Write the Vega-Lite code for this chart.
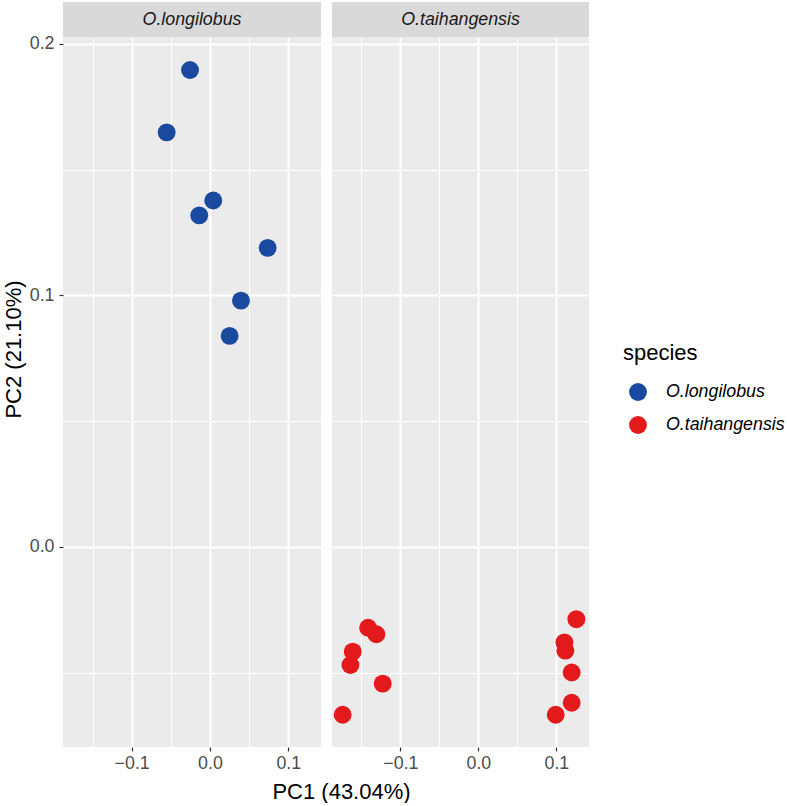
{
  "$schema": "https://vega.github.io/schema/vega-lite/v6.json",
  "padding": {"left": 2, "top": 2, "right": 0, "bottom": 0},
  "data": {"values": [
    {"species": "O.longilobus", "PC1": -0.0255, "PC2": 0.1896},
    {"species": "O.longilobus", "PC1": -0.0553, "PC2": 0.1648},
    {"species": "O.longilobus", "PC1": 0.0042, "PC2": 0.1377},
    {"species": "O.longilobus", "PC1": -0.0137, "PC2": 0.1318},
    {"species": "O.longilobus", "PC1": 0.0737, "PC2": 0.1189},
    {"species": "O.longilobus", "PC1": 0.0396, "PC2": 0.0979},
    {"species": "O.longilobus", "PC1": 0.0251, "PC2": 0.0839},
    {"species": "O.taihangensis", "PC1": -0.1414, "PC2": -0.0321},
    {"species": "O.taihangensis", "PC1": -0.1308, "PC2": -0.0347},
    {"species": "O.taihangensis", "PC1": -0.1611, "PC2": -0.0416},
    {"species": "O.taihangensis", "PC1": -0.1641, "PC2": -0.0469},
    {"species": "O.taihangensis", "PC1": -0.1227, "PC2": -0.0543},
    {"species": "O.taihangensis", "PC1": -0.1740, "PC2": -0.0667},
    {"species": "O.taihangensis", "PC1": 0.1256, "PC2": -0.0287},
    {"species": "O.taihangensis", "PC1": 0.1103, "PC2": -0.0379},
    {"species": "O.taihangensis", "PC1": 0.1115, "PC2": -0.0412},
    {"species": "O.taihangensis", "PC1": 0.1196, "PC2": -0.0499},
    {"species": "O.taihangensis", "PC1": 0.1196, "PC2": -0.0619},
    {"species": "O.taihangensis", "PC1": 0.0991, "PC2": -0.0667}
  ]},
  "config": {
    "font": "Liberation Sans",
    "view": {"fill": "#EBEBEB", "stroke": null},
    "axis": {
      "domain": false,
      "gridColor": "#FFFFFF",
      "labelFontSize": 17.8,
      "labelColor": "#4D4D4D",
      "labelFont": "Liberation Sans",
      "tickColor": "#333333",
      "tickSize": 4,
      "tickWidth": 1.2,
      "titleFontSize": 22,
      "titleFontWeight": "normal",
      "titleColor": "#000000",
      "titleFont": "Liberation Sans",
      "labelPadding": 3
    }
  },
  "spacing": -3,
  "vconcat": [
    {
      "spacing": 11,
      "hconcat": [
        {
          "width": 258,
          "height": 35,
          "view": {"fill": "#D9D9D9", "stroke": null},
          "transform": [
            {"filter": "datum.species == 'O.longilobus'"},
            {"aggregate": [{"op": "count", "as": "n"}], "groupby": ["species"]}
          ],
          "mark": {"type": "text", "fontStyle": "italic", "fontSize": 17.8, "color": "#1A1A1A", "baseline": "middle", "align": "center"},
          "encoding": {"text": {"field": "species", "type": "nominal"}}
        },
        {
          "width": 257,
          "height": 35,
          "view": {"fill": "#D9D9D9", "stroke": null},
          "transform": [
            {"filter": "datum.species == 'O.taihangensis'"},
            {"aggregate": [{"op": "count", "as": "n"}], "groupby": ["species"]}
          ],
          "mark": {"type": "text", "fontStyle": "italic", "fontSize": 17.8, "color": "#1A1A1A", "baseline": "middle", "align": "center"},
          "encoding": {"text": {"field": "species", "type": "nominal"}}
        }
      ]
    },
    {
      "spacing": 11,
      "bounds": "flush",
      "hconcat": [
        {
          "width": 258,
          "height": 710,
          "transform": [{"filter": "datum.species == 'O.longilobus'"}],
          "mark": {"type": "point", "filled": true, "size": 320, "opacity": 1, "shape": "circle"},
          "encoding": {
            "x": {
              "field": "PC1", "type": "quantitative",
              "scale": {"domain": [-0.1877, 0.1418], "nice": false, "zero": false},
              "axis": {
                "values": [-0.15, -0.1, -0.05, 0, 0.05, 0.1],
                "labelExpr": "abs(datum.value*10 - round(datum.value*10)) < 0.01 ? format(datum.value, '.1f') : ''",
                "gridWidth": {"condition": {"test": "abs(datum.value*10 - round(datum.value*10)) < 0.01", "value": 2}, "value": 1},
                "tickOpacity": {"condition": {"test": "abs(datum.value*10 - round(datum.value*10)) < 0.01", "value": 1}, "value": 0},
                "title": "PC1 (43.04%)",
                "titleX": 278,
                "titlePadding": 10
              }
            },
            "y": {
              "field": "PC2", "type": "quantitative",
              "scale": {"domain": [-0.0795, 0.2027], "nice": false, "zero": false},
              "axis": {
                "values": [-0.05, 0, 0.05, 0.1, 0.15, 0.2],
                "labelExpr": "abs(datum.value*10 - round(datum.value*10)) < 0.01 ? format(datum.value, '.1f') : ''",
                "gridWidth": {"condition": {"test": "abs(datum.value*10 - round(datum.value*10)) < 0.01", "value": 2}, "value": 1},
                "tickOpacity": {"condition": {"test": "abs(datum.value*10 - round(datum.value*10)) < 0.01", "value": 1}, "value": 0},
                "labelPadding": 5,
                "title": "PC2 (21.10%)",
                "titlePadding": 4,
                "titleY": 312
              }
            },
            "color": {
              "field": "species", "type": "nominal",
              "scale": {"domain": ["O.longilobus", "O.taihangensis"], "range": ["#1A4A9F", "#E3191C"]},
              "legend": {
                "title": "species",
                "orient": "none",
                "legendX": 560,
                "legendY": 341,
                "titleFontSize": 22,
                "titleFontWeight": "normal",
                "titleColor": "#000000",
                "titlePadding": 18,
                "labelFontSize": 17.8,
                "labelFontStyle": "italic",
                "labelColor": "#000000",
                "labelOffset": 19,
                "symbolOffset": 6,
                "symbolSize": 320,
                "symbolType": "circle",
                "symbolStrokeWidth": 0,
                "symbolOpacity": 1,
                "rowPadding": 15
              }
            }
          }
        },
        {
          "width": 257,
          "height": 710,
          "transform": [{"filter": "datum.species == 'O.taihangensis'"}],
          "mark": {"type": "point", "filled": true, "size": 320, "opacity": 1, "shape": "circle"},
          "encoding": {
            "x": {
              "field": "PC1", "type": "quantitative",
              "scale": {"domain": [-0.1877, 0.1418], "nice": false, "zero": false},
              "axis": {
                "values": [-0.15, -0.1, -0.05, 0, 0.05, 0.1],
                "labelExpr": "abs(datum.value*10 - round(datum.value*10)) < 0.01 ? format(datum.value, '.1f') : ''",
                "gridWidth": {"condition": {"test": "abs(datum.value*10 - round(datum.value*10)) < 0.01", "value": 2}, "value": 1},
                "tickOpacity": {"condition": {"test": "abs(datum.value*10 - round(datum.value*10)) < 0.01", "value": 1}, "value": 0},
                "title": null
              }
            },
            "y": {
              "field": "PC2", "type": "quantitative",
              "scale": {"domain": [-0.0795, 0.2027], "nice": false, "zero": false},
              "axis": {
                "values": [-0.05, 0, 0.05, 0.1, 0.15, 0.2],
                "labels": false,
                "ticks": false,
                "gridWidth": {"condition": {"test": "abs(datum.value*10 - round(datum.value*10)) < 0.01", "value": 2}, "value": 1},
                "title": null
              }
            },
            "color": {
              "field": "species", "type": "nominal",
              "scale": {"domain": ["O.longilobus", "O.taihangensis"], "range": ["#1A4A9F", "#E3191C"]},
              "legend": {
                "title": "species",
                "orient": "none",
                "legendX": 560,
                "legendY": 341,
                "titleFontSize": 22,
                "titleFontWeight": "normal",
                "titleColor": "#000000",
                "titlePadding": 18,
                "labelFontSize": 17.8,
                "labelFontStyle": "italic",
                "labelColor": "#000000",
                "labelOffset": 19,
                "symbolOffset": 6,
                "symbolSize": 320,
                "symbolType": "circle",
                "symbolStrokeWidth": 0,
                "symbolOpacity": 1,
                "rowPadding": 15
              }
            }
          }
        }
      ]
    }
  ]
}
